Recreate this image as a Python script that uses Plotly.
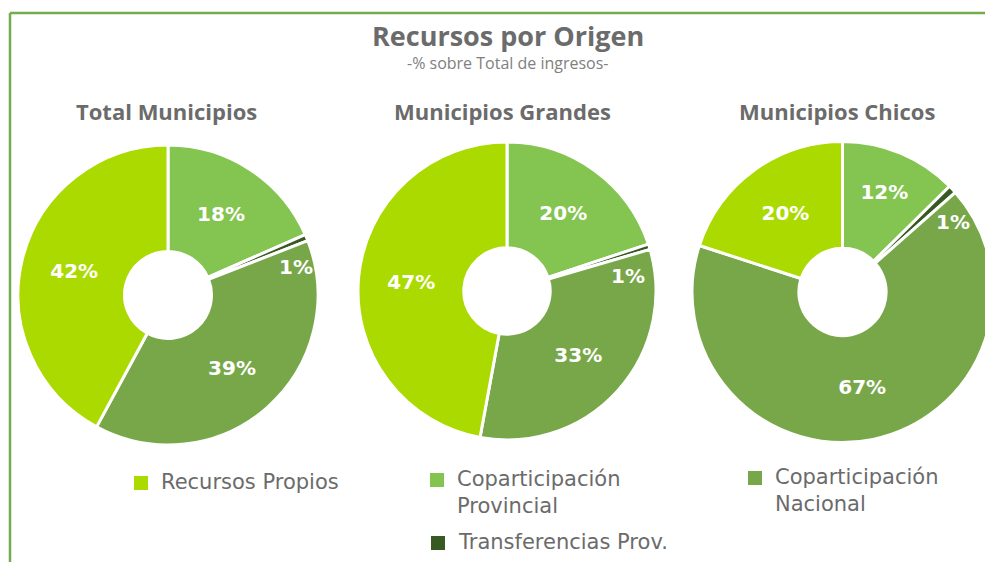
import math
import plotly.graph_objects as go

# ---------------- data ----------------
categories = ["Coparticipación Provincial", "Transferencias Prov.",
              "Coparticipación Nacional", "Recursos Propios"]
total_vals = [18.4, 0.7, 38.8, 42.1]
grandes_vals = [19.9, 0.6, 32.4, 47.1]
chicos_vals = [12.6, 0.9, 66.5, 20.0]
total_labels = ["18%", "1%", "39%", "42%"]
grandes_labels = ["20%", "1%", "33%", "47%"]
chicos_labels = ["12%", "1%", "67%", "20%"]
panel_titles = ["Total Municipios", "Municipios Grandes", "Municipios Chicos"]
legend_order = ["Recursos Propios", "Coparticipación Provincial",
                "Coparticipación Nacional", "Transferencias Prov."]
legend_text = ["Recursos Propios", "Coparticipación<br>Provincial",
               "Coparticipación<br>Nacional", "Transferencias Prov."]

# ---------------- style ----------------
# the page body has an 8px margin, so the figure is drawn 8px in from the window
OFF = 8
W, H = 993 - OFF, 562 - OFF


def fx(X):
    return (X - OFF) / W


def fy(Y):
    return 1 - (Y - OFF) / H


colors = {"Coparticipación Provincial": "#84C450",
          "Transferencias Prov.": "#375A22",
          "Coparticipación Nacional": "#78A74A",
          "Recursos Propios": "#ABDA00"}
# pie domains in window pixels: (x0, x1, ytop, ybottom)
domains_px = [(18, 318, 145, 445), (358, 656, 142, 440), (692, 993, 141, 443)]
title_x_px = [166, 502, 837]
small_r = [0.87, 0.82, 0.87]
legend_pos_px = [(134, 483), (430, 480), (748, 478), (431, 543)]
GRAY = "#6b6b6b"

fig = go.Figure()
series = [(total_vals, total_labels), (grandes_vals, grandes_labels),
          (chicos_vals, chicos_labels)]

for i, ((vals, labs), dpx) in enumerate(zip(series, domains_px)):
    x0, x1, yt, yb = dpx
    texts = [l if v >= 3 else "" for v, l in zip(vals, labs)]
    fig.add_trace(go.Pie(
        labels=categories, values=vals, text=texts,
        texttemplate="%{text}", textinfo="text",
        textposition="inside", insidetextorientation="horizontal",
        sort=False, direction="clockwise", rotation=0,
        hole=0.29,
        marker=dict(colors=[colors[c] for c in categories],
                    line=dict(color="white", width=3)),
        textfont=dict(family="DejaVu Sans", size=20, color="white", weight="bold"),
        domain=dict(x=[fx(x0), min(1, fx(x1))], y=[fy(yb), fy(yt)]),
        showlegend=False, hoverinfo="label+percent",
    ))
    # small-slice label, placed just past the sliver inside the ring
    x1c = min(x1, OFF + W)
    w_px, h_px = x1c - x0, yb - yt
    R = min(w_px, h_px) / 2
    cx, cy = (x0 + x1c) / 2, (yt + yb) / 2
    tot = sum(vals)
    for k, (v, l) in enumerate(zip(vals, labs)):
        if v < 3:
            end = sum(vals[:k + 1]) / tot * 360
            ang = math.radians(end + 9)
            r = small_r[i] * R
            px = cx + r * math.sin(ang)
            py = cy - r * math.cos(ang)
            fig.add_annotation(x=fx(px), y=fy(py), xref="paper", yref="paper",
                               text=l, showarrow=False,
                               xanchor="center", yanchor="middle",
                               font=dict(family="DejaVu Sans", size=20,
                                         color="white", weight="bold"))
    fig.add_annotation(x=fx(title_x_px[i]), y=fy(111), xref="paper", yref="paper",
                       text=panel_titles[i], showarrow=False,
                       xanchor="center", yanchor="middle",
                       font=dict(family="Open Sans", size=22, color=GRAY, weight="bold"))

# main titles
fig.add_annotation(x=fx(508), y=fy(35), xref="paper", yref="paper",
                   text="Recursos por Origen", showarrow=False,
                   xanchor="center", yanchor="middle",
                   font=dict(family="Open Sans", size=27, color=GRAY, weight="bold"))
fig.add_annotation(x=fx(508), y=fy(63), xref="paper", yref="paper",
                   text="-% sobre Total de ingresos-", showarrow=False,
                   xanchor="center", yanchor="middle",
                   font=dict(family="Open Sans", size=16, color="#808080"))

# custom legend
for name, txt, (lx, ly) in zip(legend_order, legend_text, legend_pos_px):
    fig.add_shape(type="rect", xref="paper", yref="paper",
                  x0=fx(lx), x1=fx(lx + 14), y0=fy(ly + 7), y1=fy(ly - 7),
                  fillcolor=colors[name], line=dict(width=0))
    fig.add_annotation(x=fx(lx + 25), y=fy(ly - 15), xref="paper", yref="paper",
                       text=txt, showarrow=False, xanchor="left", yanchor="top",
                       align="left",
                       font=dict(family="DejaVu Sans", size=21, color=GRAY))

# frame lines (top and left)
fig.add_shape(type="line", xref="paper", yref="paper",
              x0=fx(10), x1=1, y0=fy(13), y1=fy(13),
              line=dict(color="#76AD4C", width=2.5))
fig.add_shape(type="line", xref="paper", yref="paper",
              x0=fx(10), x1=fx(10), y0=0, y1=fy(13),
              line=dict(color="#76AD4C", width=2.5))

fig.update_layout(width=W, height=H, margin=dict(l=0, r=0, t=0, b=0),
                  paper_bgcolor="white", plot_bgcolor="white")
fig.write_html("out.html")
